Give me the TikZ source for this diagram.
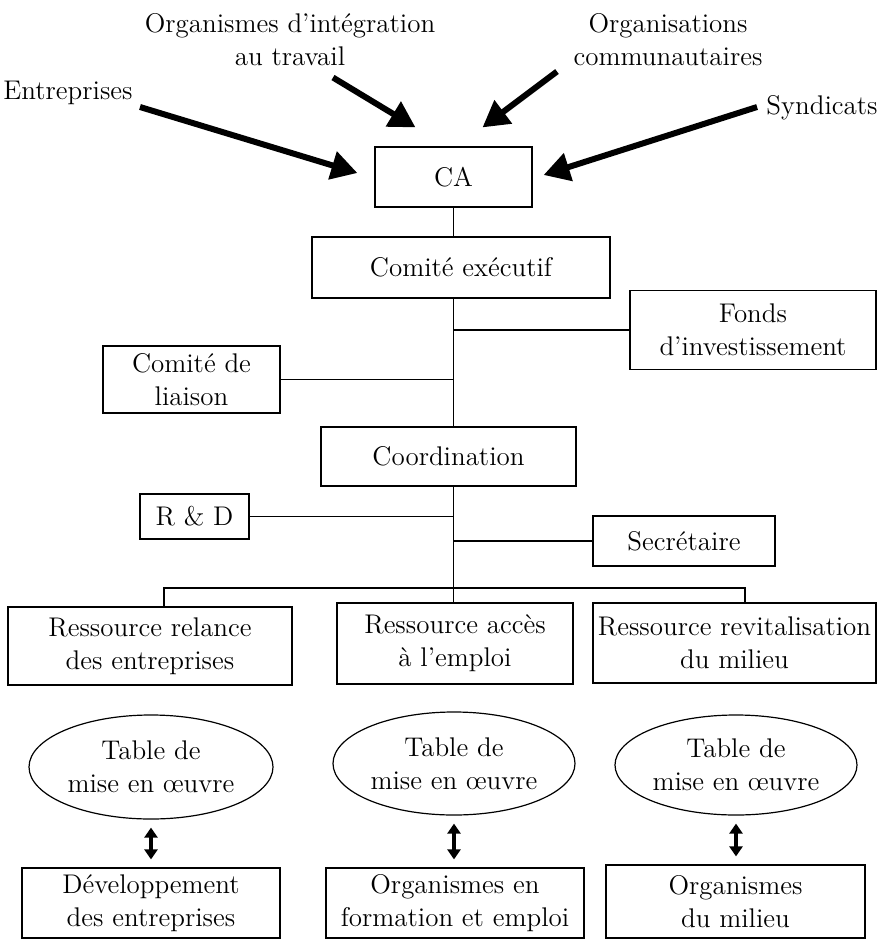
\documentclass[tikz,border=0pt]{standalone}
\usepackage{tikz}
\usetikzlibrary{arrows.meta}
\usetikzlibrary{shapes.geometric}
\usetikzlibrary{calc}

\begin{document}
\begin{tikzpicture}[x=0.5pt,y=-0.5pt,
        txt/.style={inner sep=0pt,align=center,font=\fontsize{13.5}{16.5}\selectfont},
        box/.style={txt,draw,line width=0.6pt},
        tablebox/.style={txt,draw,ellipse,line width=0.6pt},
        link/.style={line width=0.6pt},
        bigarrow/.style={line width=3pt,-{Triangle[length=13pt,width=14pt]}},
        biarrow/.style={line width=2pt,{Triangle[length=5pt,width=6.5pt]}-{Triangle[length=5pt,width=6.5pt]},shorten <=4pt,shorten >=4pt}]
        \useasboundingbox (0,0) rectangle (878,942);
        \node[txt] (orgi) at (290,40) {Organismes d’intégration\\au travail};
        \node[txt] (orgc) at (668,40) {Organisations\\communautaires};
        \node[txt] (entr) at (68,93) {Entreprises};
        \node[txt] (synd) at (822,108) {Syndicats};
        \node[box,minimum width=78.5pt,minimum height=30pt] (ca) at (453.5,177) {CA};
        \node[box,minimum width=149pt,minimum height=30.5pt] (ce) at (461,267.5) {Comité exécutif};
        \node[box,minimum width=123pt,minimum height=39.5pt] (fonds) at (753,330) {Fonds\\d’investissement};
        \node[box,minimum width=88.5pt,minimum height=33.5pt] (liaison) at (191.5,379.5) {Comité de\\liaison};
        \node[box,minimum width=127.5pt,minimum height=29.5pt] (coord) at (448.5,456.5) {Coordination};
        \node[box,minimum width=54.5pt,minimum height=22.5pt] (rd) at (194.5,516.5) {R \& D};
        \node[box,minimum width=91pt,minimum height=25pt] (secr) at (684,541) {Secrétaire};
        \node[box,minimum width=142pt,minimum height=39pt] (rel) at (150,646) {Ressource relance\\des entreprises};
        \node[box,minimum width=118pt,minimum height=40.5pt] (acc) at (455,643.5) {Ressource accès\\à l’emploi};
        \node[box,minimum width=141.5pt,minimum height=40pt] (rev) at (734.5,643) {Ressource revitalisation\\du milieu};
        \node[tablebox,minimum width=122pt,minimum height=52pt] (tab1) at (151,767) {Table de\\mise en œuvre};
        \node[tablebox,minimum width=121pt,minimum height=51.5pt] (tab2) at (454,763.5) {Table de\\mise en œuvre};
        \node[tablebox,minimum width=121pt,minimum height=50pt] (tab3) at (736,765) {Table de\\mise en œuvre};
        \node[box,minimum width=129pt,minimum height=35pt] (dev) at (151,903) {Développement\\des entreprises};
        \node[box,minimum width=129pt,minimum height=35pt] (orgf) at (455,903) {Organismes en\\formation et emploi};
        \node[box,minimum width=129.5pt,minimum height=36.5pt] (orgm) at (735.5,901.5) {Organismes\\du milieu};
        \coordinate (bus) at (453.5,588);
        \draw[bigarrow] ($(entr.east)+(7,14)$) -- ($(ca.west)+(-17,-4)$);
        \draw[bigarrow] ($(orgi.south)+(43,11)$) -- ($(ca.north)+(-38,-19)$);
        \draw[bigarrow] ($(orgc.south)+(-111,5)$) -- ($(ca.north)+(29,-19)$);
        \draw[bigarrow] ($(synd.west)+(-9,-1)$) -- ($(ca.east)+(11,-2)$);
        \draw[link] (ca.south) -- (ca.south |- ce.north);
        \draw[link] (ca.south |- ce.south) -- (ca.south |- coord.north);
        \draw[link] (fonds.west) -- (fonds.west -| ca.south);
        \draw[link] (liaison.east) -- (liaison.east -| ca.south);
        \draw[link] (ca.south |- coord.south) -- (ca.south |- acc.north);
        \draw[link] (rd.east) -- (rd.east -| ca.south);
        \draw[link] (secr.west) -- (secr.west -| ca.south);
        \draw[link] ([xshift=7pt]rel.north) |- (bus) -| ([xshift=5.25pt]rev.north);
        \draw[biarrow] (tab1.south) -- (dev.north);
        \draw[biarrow] (tab2.south) -- (tab2.south |- orgf.north);
        \draw[biarrow] (tab3.south) -- (tab3.south |- orgm.north);
    \end{tikzpicture}
\end{document}
